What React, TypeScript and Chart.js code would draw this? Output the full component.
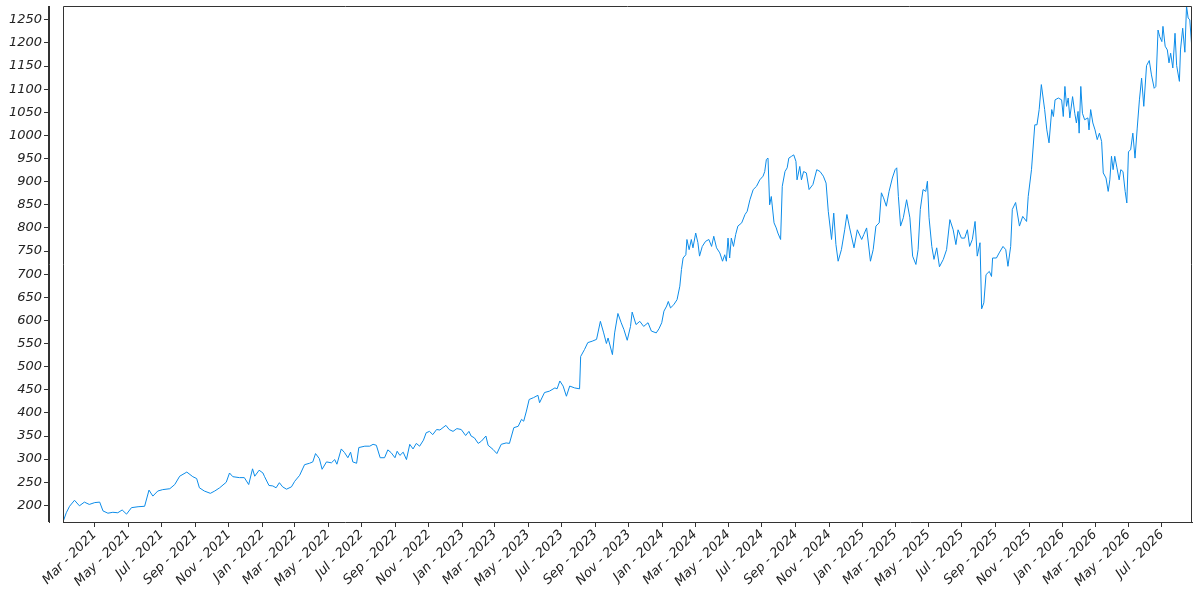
import React, { useEffect, useRef } from "react";
import { Chart, registerables } from "chart.js";

Chart.register(...registerables);

const dates2021 = [
  "2021-01-02", "2021-01-08", "2021-01-14", "2021-01-23", "2021-02-01", "2021-02-10", "2021-02-19",
  "2021-03-01", "2021-03-10", "2021-03-16", "2021-03-25", "2021-04-03", "2021-04-12", "2021-04-20",
  "2021-04-28", "2021-05-07", "2021-05-19", "2021-05-31", "2021-06-08", "2021-06-15", "2021-06-24",
  "2021-07-03", "2021-07-16", "2021-07-25", "2021-08-03", "2021-08-16", "2021-08-27", "2021-09-03",
  "2021-09-08", "2021-09-17", "2021-09-28", "2021-10-06", "2021-10-15", "2021-10-27", "2021-11-02",
  "2021-11-08", "2021-11-20", "2021-11-29", "2021-12-07", "2021-12-14", "2021-12-18", "2021-12-26",
];
const values2021 = [
  164, 184, 198, 211, 199, 207, 202,
  206, 207, 188, 183, 185, 184, 190,
  181, 195, 197, 198, 233, 220, 231,
  234, 236, 245, 263, 272, 262, 258,
  238, 231, 226, 231, 238, 250, 270,
  262, 260, 260, 245, 279, 263, 276,
];

const dates2022 = [
  "2022-01-02", "2022-01-05", "2022-01-13", "2022-01-20", "2022-01-26", "2022-02-01", "2022-02-07",
  "2022-02-14", "2022-02-23", "2022-03-01", "2022-03-10", "2022-03-19", "2022-03-28", "2022-04-03",
  "2022-04-08", "2022-04-15", "2022-04-20", "2022-04-28", "2022-05-07", "2022-05-13", "2022-05-17",
  "2022-05-25", "2022-05-31", "2022-06-06", "2022-06-11", "2022-06-15", "2022-06-22", "2022-06-26",
  "2022-07-07", "2022-07-16", "2022-07-22", "2022-07-28", "2022-08-04", "2022-08-12", "2022-08-18",
  "2022-08-24", "2022-08-31", "2022-09-04", "2022-09-09", "2022-09-15", "2022-09-21", "2022-09-27",
  "2022-10-03", "2022-10-09", "2022-10-15", "2022-10-22", "2022-10-27", "2022-11-02", "2022-11-08",
  "2022-11-15", "2022-11-21", "2022-12-02", "2022-12-08", "2022-12-15", "2022-12-22", "2022-12-30",
];
const values2022 = [
  270, 262, 243, 242, 238, 249, 240,
  235, 240, 252, 265, 288, 291, 294,
  312, 301, 278, 294, 292, 299, 289,
  322, 314, 303, 315, 294, 291, 325,
  328, 328, 332, 330, 303, 303, 320,
  314, 303, 317, 308, 315, 299, 332,
  322, 334, 328, 341, 357, 360, 353,
  364, 363, 373, 364, 360, 366, 364,
];

const dates2023 = [
  "2023-01-07", "2023-01-13", "2023-01-17", "2023-01-23", "2023-01-30", "2023-02-05", "2023-02-13",
  "2023-02-17", "2023-02-26", "2023-03-05", "2023-03-13", "2023-03-22", "2023-03-28", "2023-04-05",
  "2023-04-13", "2023-04-19", "2023-04-23", "2023-04-28", "2023-05-03", "2023-05-11", "2023-05-19",
  "2023-05-22", "2023-05-31", "2023-06-09", "2023-06-19", "2023-06-23", "2023-06-28", "2023-07-04",
  "2023-07-10", "2023-07-16", "2023-07-25", "2023-08-03", "2023-08-05", "2023-08-12", "2023-08-18",
  "2023-08-26", "2023-09-03", "2023-09-10", "2023-09-16", "2023-09-21", "2023-09-24", "2023-10-02",
  "2023-10-06", "2023-10-12", "2023-10-18", "2023-10-23", "2023-10-29", "2023-11-04", "2023-11-07",
  "2023-11-14", "2023-11-21", "2023-11-28", "2023-12-06", "2023-12-12", "2023-12-21", "2023-12-26",
  "2023-12-31",
];
const values2023 = [
  351, 360, 350, 346, 334, 339, 350,
  330, 321, 312, 332, 335, 334, 368,
  371, 386, 382, 404, 429, 433, 438,
  422, 444, 447, 454, 452, 469, 458,
  436, 458, 454, 452, 522, 537, 552,
  555, 559, 598, 573, 550, 562, 526,
  573, 615, 595, 580, 557, 587, 618,
  591, 598, 587, 595, 577, 573, 582,
  595,
];

const dates2024 = [
  "2024-01-04", "2024-01-09", "2024-01-12", "2024-01-16", "2024-01-22", "2024-01-28", "2024-02-02",
  "2024-02-05", "2024-02-08", "2024-02-13", "2024-02-15", "2024-02-19", "2024-02-23", "2024-02-26",
  "2024-03-02", "2024-03-06", "2024-03-09", "2024-03-14", "2024-03-20", "2024-03-26", "2024-03-31",
  "2024-04-04", "2024-04-09", "2024-04-15", "2024-04-20", "2024-04-24", "2024-04-27", "2024-04-30",
  "2024-05-03", "2024-05-06", "2024-05-10", "2024-05-14", "2024-05-18", "2024-05-25", "2024-05-31",
  "2024-06-04", "2024-06-09", "2024-06-15", "2024-06-21", "2024-06-27", "2024-07-03", "2024-07-06",
  "2024-07-09", "2024-07-12", "2024-07-15", "2024-07-18", "2024-07-23", "2024-07-27", "2024-07-30",
  "2024-08-04", "2024-08-07", "2024-08-12", "2024-08-16", "2024-08-19", "2024-08-24", "2024-08-28",
  "2024-09-01", "2024-09-03", "2024-09-08", "2024-09-11", "2024-09-15", "2024-09-20", "2024-09-25",
  "2024-10-02", "2024-10-09", "2024-10-15", "2024-10-21", "2024-10-26", "2024-10-30", "2024-11-05",
  "2024-11-09", "2024-11-13", "2024-11-17", "2024-11-23", "2024-11-29", "2024-12-03", "2024-12-08",
  "2024-12-16", "2024-12-22", "2024-12-30",
];
const values2024 = [
  620, 631, 641, 627, 634, 645, 674,
  710, 735, 742, 775, 753, 775, 757,
  789, 768, 739, 760, 771, 775, 760,
  782, 757, 746, 728, 742, 728, 778,
  735, 778, 760, 786, 804, 811, 829,
  836, 861, 883, 890, 904, 912, 922,
  948, 951, 850, 868, 811, 800, 789,
  775, 890, 922, 930, 951, 955, 958,
  944, 904, 933, 904, 922, 919, 883,
  894, 926, 922, 912, 897, 836, 775,
  832, 764, 728, 753, 796, 829, 800,
  757, 796, 775,
];

const dates2025 = [
  "2025-01-03", "2025-01-08", "2025-01-15", "2025-01-20", "2025-01-25", "2025-01-31", "2025-02-04",
  "2025-02-08", "2025-02-13", "2025-02-18", "2025-02-24", "2025-03-01", "2025-03-04", "2025-03-07",
  "2025-03-11", "2025-03-16", "2025-03-22", "2025-03-28", "2025-04-02", "2025-04-08", "2025-04-12",
  "2025-04-16", "2025-04-21", "2025-04-26", "2025-04-29", "2025-05-02", "2025-05-07", "2025-05-11",
  "2025-05-16", "2025-05-21", "2025-05-28", "2025-06-03", "2025-06-09", "2025-06-15", "2025-06-20",
  "2025-06-24", "2025-06-30", "2025-07-06", "2025-07-11", "2025-07-15", "2025-07-20", "2025-07-25",
  "2025-07-29", "2025-08-03", "2025-08-06", "2025-08-10", "2025-08-14", "2025-08-20", "2025-08-24",
  "2025-08-26", "2025-09-02", "2025-09-07", "2025-09-14", "2025-09-19", "2025-09-23", "2025-09-28",
  "2025-10-01", "2025-10-07", "2025-10-14", "2025-10-20", "2025-10-27", "2025-10-30", "2025-11-05",
  "2025-11-11", "2025-11-15", "2025-11-19", "2025-11-23", "2025-11-29", "2025-12-03", "2025-12-07",
  "2025-12-12", "2025-12-15", "2025-12-18", "2025-12-24", "2025-12-30",
];
const values2025 = [
  786, 800, 728, 753, 804, 811, 876,
  865, 847, 879, 908, 926, 930, 868,
  804, 822, 861, 822, 739, 721, 753,
  840, 883, 879, 901, 822, 760, 732,
  757, 716, 732, 753, 818, 796, 764,
  796, 778, 778, 796, 760, 775, 814,
  739, 768, 625, 638, 699, 706, 695,
  735, 735, 746, 760, 753, 717, 760,
  840, 855, 804, 825, 814, 868, 926,
  1023, 1023, 1056, 1110, 1056, 1012, 984,
  1056, 1041, 1077, 1081, 1077,
];

const dates2026 = [
  "2026-01-02", "2026-01-05", "2026-01-08", "2026-01-11", "2026-01-14", "2026-01-19", "2026-01-23",
  "2026-01-26", "2026-01-29", "2026-01-31", "2026-02-03", "2026-02-06", "2026-02-10", "2026-02-16",
  "2026-02-18", "2026-02-21", "2026-02-25", "2026-03-01", "2026-03-05", "2026-03-09", "2026-03-13",
  "2026-03-16", "2026-03-21", "2026-03-25", "2026-03-28", "2026-03-31", "2026-04-03", "2026-04-06",
  "2026-04-10", "2026-04-14", "2026-04-17", "2026-04-21", "2026-04-25", "2026-04-28", "2026-05-01",
  "2026-05-05", "2026-05-09", "2026-05-13", "2026-05-17", "2026-05-21", "2026-05-25", "2026-05-29",
  "2026-06-03", "2026-06-08", "2026-06-12", "2026-06-17", "2026-06-20", "2026-06-24", "2026-06-27",
  "2026-07-01", "2026-07-03", "2026-07-07", "2026-07-11", "2026-07-14", "2026-07-17", "2026-07-21",
  "2026-07-25", "2026-07-28", "2026-08-02", "2026-08-04", "2026-08-08", "2026-08-12", "2026-08-15",
  "2026-08-18", "2026-08-21", "2026-08-25",
];
const values2026 = [
  1041, 1106, 1063, 1081, 1038, 1084, 1048,
  1027, 1052, 1005, 1106, 1048, 1034, 1038,
  1012, 1056, 1027, 1012, 991, 1005, 987,
  919, 908, 879, 904, 955, 926, 955,
  930, 904, 926, 922, 879, 854, 965,
  969, 1005, 951, 1016, 1077, 1124, 1063,
  1151, 1162, 1131, 1102, 1106, 1228, 1214,
  1203, 1236, 1193, 1185, 1157, 1178, 1146,
  1221, 1151, 1117, 1185, 1232, 1180, 1280,
  1254, 1250, 1185,
];

const tickDates = [
  "2021-03-01", "2021-05-01", "2021-07-01", "2021-09-01", "2021-11-01",
  "2022-01-01", "2022-03-01", "2022-05-01", "2022-07-01", "2022-09-01", "2022-11-01",
  "2023-01-01", "2023-03-01", "2023-05-01", "2023-07-01", "2023-09-01", "2023-11-01",
  "2024-01-01", "2024-03-01", "2024-05-01", "2024-07-01", "2024-09-01", "2024-11-01",
  "2025-01-01", "2025-03-01", "2025-05-01", "2025-07-01", "2025-09-01", "2025-11-01",
  "2026-01-01", "2026-03-01", "2026-05-01", "2026-07-01",
];
const monthNames = ["Jan", "Feb", "Mar", "Apr", "May", "Jun", "Jul", "Aug", "Sep", "Oct", "Nov", "Dec"];

const yTickStep = 50;

const dates = [...dates2021, ...dates2022, ...dates2023, ...dates2024, ...dates2025, ...dates2026];
const values = [...values2021, ...values2022, ...values2023, ...values2024, ...values2025, ...values2026];

const FONT = { family: "'DejaVu Sans', sans-serif", size: 13, style: "italic" as const };
const AXIS_COLOR = "#333";
const TEXT_COLOR = "#222";
const LINE_COLOR = "#0c8ce9";

const boxPlugin = {
  id: "plotBox",
  afterDraw(chart: any) {
    const { ctx, chartArea } = chart;
    const yScale = chart.scales.y;
    ctx.save();
    ctx.strokeStyle = AXIS_COLOR;
    ctx.lineWidth = 1;
    ctx.beginPath();
    ctx.moveTo(chartArea.left + 0.5, chartArea.bottom);
    ctx.lineTo(chartArea.left + 0.5, chartArea.top + 0.5);
    ctx.lineTo(chartArea.right - 0.5, chartArea.top + 0.5);
    ctx.lineTo(chartArea.right - 0.5, chartArea.bottom);
    ctx.stroke();
    // detached y-axis line
    const ax = Math.round(yScale.right) - 0.5;
    ctx.beginPath();
    ctx.moveTo(ax, yScale.top);
    ctx.lineTo(ax, yScale.bottom);
    ctx.stroke();
    ctx.restore();
  },
};

export default function App() {
  const canvasRef = useRef<HTMLCanvasElement | null>(null);

  useEffect(() => {
    if (!canvasRef.current) return;
    const points = dates.map((d, i) => ({ x: Date.parse(d), y: values[i] }));
    const xMin = Date.parse(dates[0]);
    const xMax = Date.parse(dates[dates.length - 1]);
    const yMin = Math.min(...values);
    const yMax = Math.max(...values);

    const chart = new Chart(canvasRef.current, {
      type: "line",
      data: {
        datasets: [
          {
            data: points,
            borderColor: LINE_COLOR,
            borderWidth: 1,
            pointRadius: 0,
            tension: 0,
            fill: false,
            xAxisID: "x",
            yAxisID: "y",
          },
        ],
      },
      plugins: [boxPlugin],
      options: {
        animation: false,
        responsive: true,
        maintainAspectRatio: false,
        layout: { padding: { top: 6, right: 8, left: 0, bottom: 0 } },
        plugins: { legend: { display: false }, tooltip: { enabled: false } },
        scales: {
          x: {
            type: "linear",
            position: "bottom",
            min: xMin,
            max: xMax,
            afterBuildTicks: (scale: any) => {
              scale.ticks = tickDates.map((d) => ({ value: Date.parse(d) }));
            },
            afterFit: (scale: any) => {
              scale.height = 78;
              scale.paddingLeft = 0;
              scale.paddingRight = 0;
            },
            grid: { drawOnChartArea: false, drawTicks: true, tickLength: 5, color: AXIS_COLOR },
            border: { display: true, color: AXIS_COLOR, width: 1 },
            ticks: {
              autoSkip: false,
              minRotation: 45,
              maxRotation: 45,
              padding: 0,
              color: TEXT_COLOR,
              font: FONT,
              callback: (value: any) => {
                const d = new Date(Number(value));
                return `${monthNames[d.getUTCMonth()]} - ${d.getUTCFullYear()}`;
              },
            },
          },
          y: {
            type: "linear",
            position: "left",
            weight: 10,
            min: yMin,
            max: yMax,
            afterFit: (scale: any) => {
              scale.width = 49;
              scale.paddingTop = 0;
              scale.paddingBottom = 0;
            },
            grid: { drawOnChartArea: false, drawTicks: true, tickLength: 5, color: AXIS_COLOR },
            border: { display: true, color: AXIS_COLOR, width: 1 },
            ticks: {
              stepSize: yTickStep,
              includeBounds: false,
              padding: 2,
              color: TEXT_COLOR,
              font: FONT,
              callback: (value: any) => String(value),
            },
          },
          gap: {
            type: "linear",
            position: "left",
            weight: 0,
            afterFit: (scale: any) => {
              scale.width = 14;
              scale.paddingTop = 0;
              scale.paddingBottom = 0;
            },
            grid: { display: false, drawTicks: false },
            border: { display: false },
            ticks: { display: false },
          },
        },
      },
    } as any);

    return () => chart.destroy();
  }, []);

  return (
    <div style={{ position: "fixed", left: 0, top: 0, width: 1200, height: 600, background: "#fff" }}>
      <canvas ref={canvasRef} />
    </div>
  );
}
